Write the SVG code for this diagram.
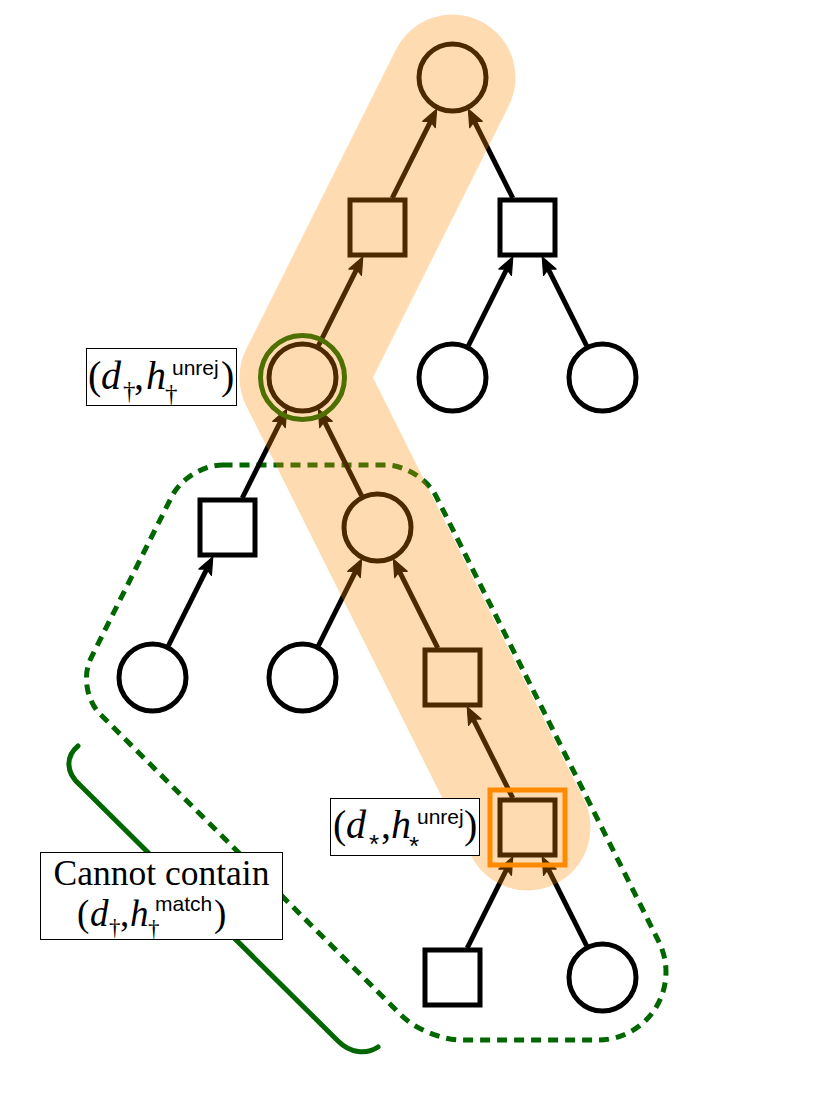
<svg xmlns="http://www.w3.org/2000/svg" width="830" height="1093" viewBox="0 0 830 1093">
<defs>
<style>
.node{fill:#fff;stroke:#000;stroke-width:5}
.edge{stroke:#000;stroke-width:5;fill:none;marker-end:url(#arr)}
.lbl{fill:#fff;stroke:#000;stroke-width:1}
.m{font-family:"Liberation Serif","DejaVu Serif",serif;font-size:40px;fill:#000}
.i{font-style:italic}
.s{font-family:"Liberation Sans","DejaVu Sans",sans-serif;font-size:21px;font-style:normal}
.sub{font-size:25px;font-style:normal}
.ast{font-family:"Liberation Sans","DejaVu Sans",sans-serif;font-size:26px;font-style:normal}
.grn{fill:none;stroke:#006600;stroke-width:5}
</style>
<marker id="arr" markerUnits="userSpaceOnUse" viewBox="-10 -9 22 18" markerWidth="22" markerHeight="18" refX="0" refY="0" orient="auto">
<path d="M9,0 L-8,-7 L-4.5,0 L-8,7 Z" fill="#000" stroke="#000" stroke-width="1.2" stroke-linejoin="round"/>
</marker>
</defs>
<rect x="0" y="0" width="830" height="1093" fill="#fff"/>
<g id="region">
<path class="grn" stroke-dasharray="10 7" d="M222.5,465 L385.5,465 C404.75,465 427.54,479.09 436.15,496.3 L658.8,941.6 A68,68 0 0 1 598,1040 L461,1040 C441.75,1040 414.86,1028.86 401.25,1015.25 L100.08,714.08 C86.47,700.47 82.37,675.25 90.98,658.03 L171.85,496.3 C180.46,479.09 203.25,465 222.5,465 Z"/>
</g>
<g id="brace">
<path class="grn" stroke-linecap="round" d="M78,746 C66,756 65,772 80,785 L338,1041 C350,1053 366,1055 378,1047"/>
</g>
<g id="connectors">
<path class="edge" d="M392.25,198 L432.6,117.3"/>
<path class="edge" d="M512.75,198 L472.4,117.3"/>
<path class="edge" d="M318.38,345.75 L358.73,265.05"/>
<path class="edge" d="M468.38,345.75 L508.73,265.05"/>
<path class="edge" d="M586.62,345.75 L546.27,265.05"/>
<path class="edge" d="M242.25,498 L282.6,417.3"/>
<path class="edge" d="M361.62,495.75 L322.4,417.3"/>
<path class="edge" d="M168.38,645.75 L208.73,565.05"/>
<path class="edge" d="M318.38,645.75 L357.6,567.3"/>
<path class="edge" d="M437.75,648 L397.4,567.3"/>
<path class="edge" d="M512.75,798 L471.27,715.05"/>
<path class="edge" d="M467.25,948 L508.73,865.05"/>
<path class="edge" d="M586.62,945.75 L546.27,865.05"/>
</g>
<g id="n-root"><circle class="node" cx="452.5" cy="77.5" r="33.5"/></g>
<g id="n-sqA"><rect class="node" x="350" y="200" width="55" height="55"/></g>
<g id="n-sqB"><rect class="node" x="500" y="200" width="55" height="55"/></g>
<g id="n-dagger"><circle class="grn" cx="302.5" cy="377.5" r="42"/><circle class="node" cx="302.5" cy="377.5" r="33.5"/></g>
<g id="n-c1"><circle class="node" cx="452.5" cy="377.5" r="33.5"/></g>
<g id="n-c2"><circle class="node" cx="602.5" cy="377.5" r="33.5"/></g>
<g id="n-sqC"><rect class="node" x="200" y="500" width="55" height="55"/></g>
<g id="n-cD"><circle class="node" cx="377.5" cy="527.5" r="33.5"/></g>
<g id="n-c3"><circle class="node" cx="152.5" cy="677.5" r="33.5"/></g>
<g id="n-c4"><circle class="node" cx="302.5" cy="677.5" r="33.5"/></g>
<g id="n-sqE"><rect class="node" x="425" y="650" width="55" height="55"/></g>
<g id="n-star"><rect x="490" y="790" width="75" height="75" fill="none" stroke="#ff8c00" stroke-width="5"/><rect class="node" x="500" y="800" width="55" height="55"/></g>
<g id="n-sqG"><rect class="node" x="425" y="950" width="55" height="55"/></g>
<g id="n-cH"><circle class="node" cx="602.5" cy="977.5" r="33.5"/></g>
<g id="path-highlight">
<path d="M452.5,77.5 L302.5,377.5 L527.5,827.5" fill="none" stroke="#ff8800" stroke-opacity="0.3" stroke-width="126" stroke-linecap="round" stroke-linejoin="round"/>
</g>
<g id="label-dagger">
<rect class="lbl" x="86.5" y="348.5" width="150" height="57"/>
<text class="m"><tspan x="88" y="389">(</tspan><tspan x="101" y="389" class="i">d</tspan><tspan x="123" y="399" class="sub">†</tspan><tspan x="134" y="389">,</tspan><tspan x="146" y="389" class="i">h</tspan><tspan x="165" y="402" class="sub">†</tspan><tspan x="172" y="375" class="s">unrej</tspan><tspan x="221" y="389">)</tspan></text>
</g>
<g id="label-star">
<rect class="lbl" x="330.5" y="798.5" width="149" height="57"/>
<text class="m"><tspan x="333" y="838">(</tspan><tspan x="346" y="838" class="i">d</tspan><tspan x="369" y="853" class="ast">*</tspan><tspan x="381" y="838">,</tspan><tspan x="391" y="838" class="i">h</tspan><tspan x="409" y="855" class="ast">*</tspan><tspan x="417" y="824" class="s">unrej</tspan><tspan x="464" y="838">)</tspan></text>
</g>
<g id="label-cannot">
<rect class="lbl" x="40.5" y="852.5" width="242" height="87"/>
<text class="m" x="161.5" y="885" text-anchor="middle" style="font-size:35.5px">Cannot contain</text>
<text class="m" style="font-size:37px"><tspan x="77" y="926">(</tspan><tspan x="90" y="926" class="i">d</tspan><tspan x="109" y="935" class="sub" style="font-size:23px">†</tspan><tspan x="120" y="926">,</tspan><tspan x="130" y="926" class="i">h</tspan><tspan x="148" y="936" class="sub" style="font-size:23px">†</tspan><tspan x="155" y="911" class="s">match</tspan><tspan x="214" y="926">)</tspan></text>
</g>
</svg>
